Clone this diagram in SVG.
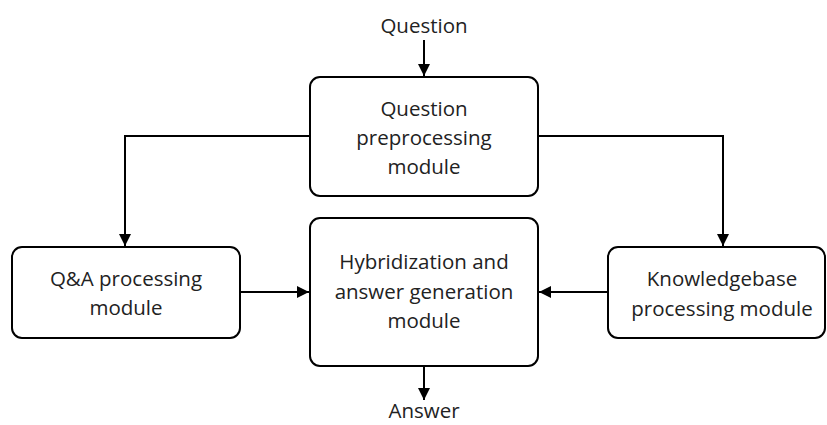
<svg xmlns="http://www.w3.org/2000/svg" width="827" height="425" viewBox="0 0 827 425">
<defs>
<marker id="ah" viewBox="0 0 10 10" refX="10" refY="5" markerWidth="6" markerHeight="6" orient="auto" markerUnits="strokeWidth">
<path d="M0,0 L10,5 L0,10 z" fill="#000"/>
</marker>
<style>
.box{fill:#fff;stroke:#000;stroke-width:2}
.t{font-family:"Open Sans","Liberation Sans",sans-serif;font-size:20.5px;fill:#222;text-anchor:middle}
.c{fill:none;stroke:#000;stroke-width:2;marker-end:url(#ah)}
</style>
</defs>
<rect width="827" height="425" fill="#fff"/>
<g id="connectors">
<line class="c" x1="424" y1="40" x2="424" y2="76"/>
<polyline class="c" points="310,136 125,136 125,246"/>
<polyline class="c" points="538,136 723,136 723,246"/>
<line class="c" x1="240" y1="292" x2="309" y2="292"/>
<line class="c" x1="608" y1="292" x2="539" y2="292"/>
<line class="c" x1="424" y1="366" x2="424" y2="400"/>
</g>
<g id="question"><text class="t" x="424" y="33">Question</text></g>
<g id="preprocessing">
<rect class="box" x="310" y="77" width="228" height="119" rx="10"/>
<text class="t" x="424" y="116">Question</text>
<text class="t" x="424" y="145">preprocessing</text>
<text class="t" x="424" y="174">module</text>
</g>
<g id="qa">
<rect class="box" x="12" y="247" width="228" height="91" rx="10"/>
<text class="t" x="126" y="286">Q&amp;A processing</text>
<text class="t" x="126" y="315">module</text>
</g>
<g id="hybrid">
<rect class="box" x="310" y="218" width="228" height="148" rx="10"/>
<text class="t" x="424" y="269">Hybridization and</text>
<text class="t" x="424" y="299">answer generation</text>
<text class="t" x="424" y="328">module</text>
</g>
<g id="kb">
<rect class="box" x="608" y="247" width="217" height="91" rx="10"/>
<text class="t" x="722" y="286">Knowledgebase</text>
<text class="t" x="722" y="316">processing module</text>
</g>
<g id="answer"><text class="t" x="424" y="418">Answer</text></g>
</svg>
